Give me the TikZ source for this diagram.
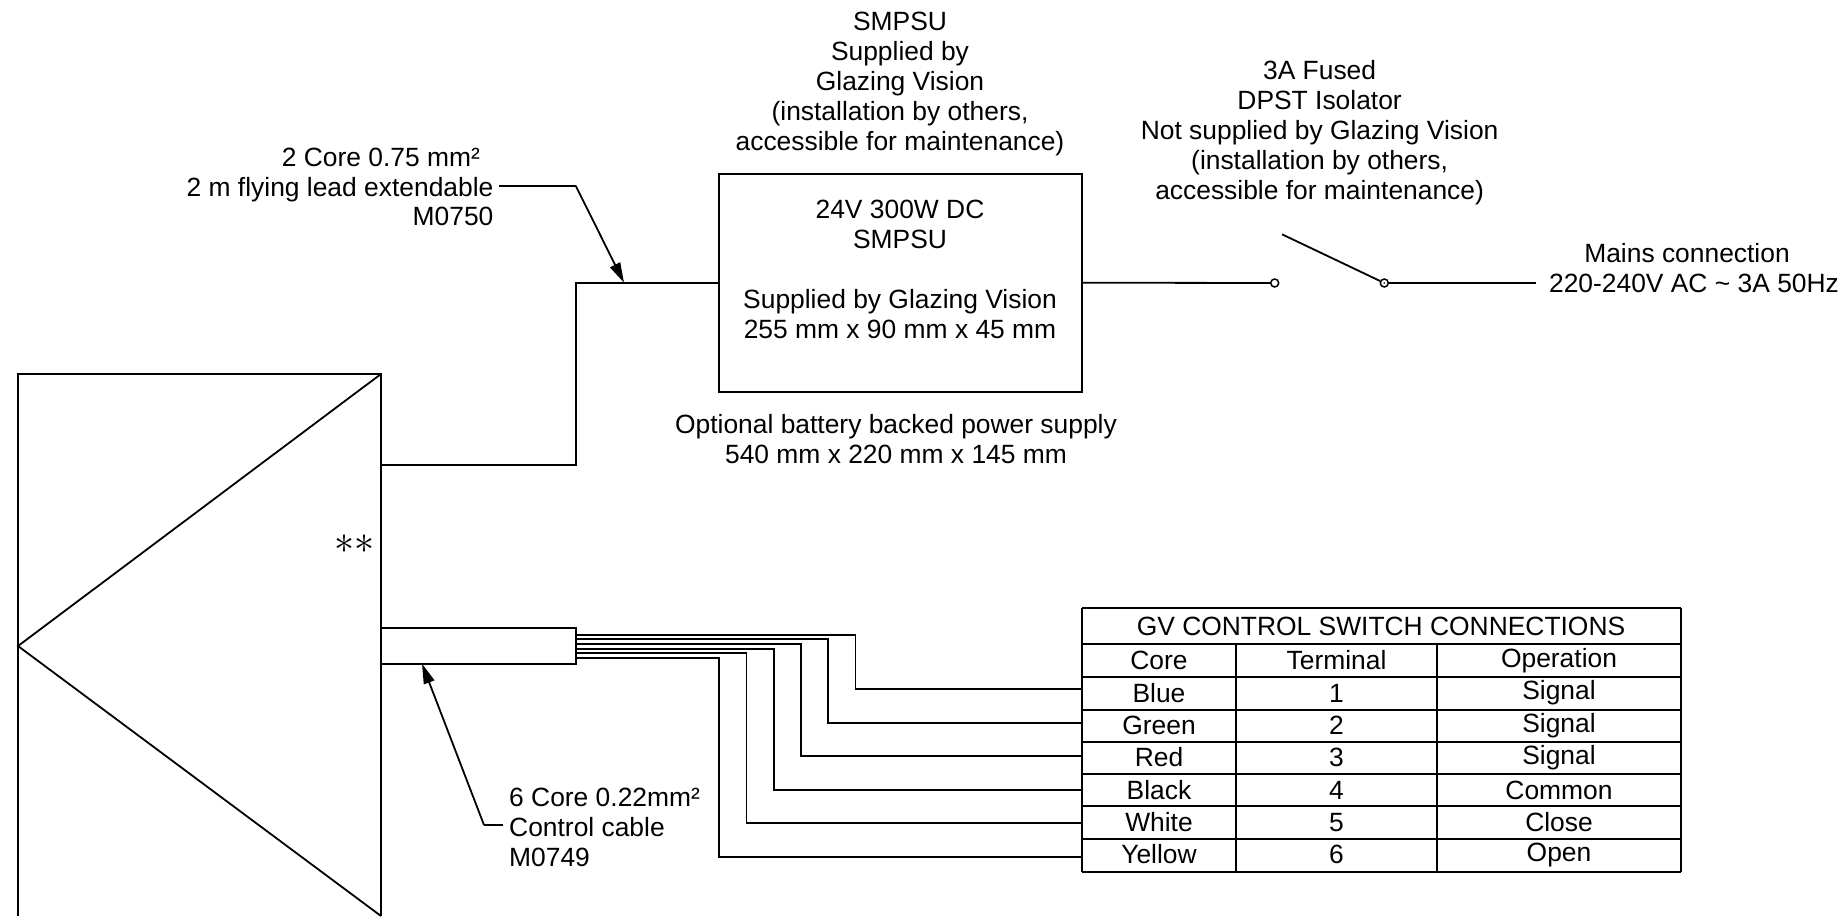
\documentclass[tikz,border=0pt]{standalone}
\usepackage{fontspec}
\setmainfont{Liberation Sans}
\usetikzlibrary{arrows.meta}
\tikzset{
  x=1pt,y=-1pt,
  ln/.style={line width=1.8pt,line join=miter},
  wire/.style={line width=1.8pt},
  lead/.style={line width=1.8pt,-{Triangle[length=20pt,width=11pt]}},
  lbl/.style={inner sep=0pt,align=center,font=\fontsize{26.4pt}{29.9pt}\selectfont},
  cell/.style={inner sep=0pt,anchor=base,font=\fontsize{26.4pt}{29.9pt}\selectfont},
  term/.style={circle,draw,fill=white,line width=1.5pt,inner sep=0pt,minimum size=8pt},
}
\begin{document}
\begin{tikzpicture}
\useasboundingbox (0,0) rectangle (1847,916);
% enclosure
\coordinate (tl) at (18,374);
\coordinate (tr) at (381,374);
\coordinate (bl) at (18,916);
\coordinate (br) at (381,916);
\coordinate (apex) at (18,646);
\draw[ln] (bl) -- (tl) -- (tr) -- (br);
\draw[ln] (tr) -- (apex) -- (br);
\node[inner sep=0pt,scale=4] (stars) at (354.7,544) {$\ast\ast$};
% power box
\node[draw,ln,minimum width=363pt,minimum height=218pt,inner sep=0pt] (psu) at (900.5,282.7) {};
\node[lbl] (psutxt) at (900,269.6) {24V 300W DC\\SMPSU\\[29.9pt]Supplied by Glazing Vision\\255 mm x 90 mm x 45 mm};
\node[lbl] (smpsu) at (900,84) {SMPSU\\Supplied by\\Glazing Vision\\(installation by others,\\accessible for maintenance)};
\node[lbl] (fused) at (1319.6,132.5) {3A Fused\\DPST Isolator\\Not supplied by Glazing Vision\\(installation by others,\\accessible for maintenance)};
\node[lbl] (mainsa) at (1687,253) {Mains connection};
\node[lbl] (mainsb) at (1694,283) {220-240V AC \textasciitilde{} 3A 50Hz};
\node[lbl] (batt) at (896,439) {Optional battery backed power supply\\540 mm x 220 mm x 145 mm};
\node[lbl,align=right,anchor=east] (lead2) at (493.6,187) {2 Core 0.75 mm²\hspace*{13.4pt}\\2 m flying lead extendable\\M0750};
\node[lbl,align=left,anchor=west] (lead6) at (509,827) {6 Core 0.22mm²\\Control cable\\M0749};
% power wiring
\coordinate (ps1) at (381,465);
\coordinate (ps2) at (575.7,465);
\coordinate (ps3) at (575.7,282.7);
\draw[ln] (ps1) -- (ps2) -- (ps3) -- (psu.west);
\coordinate (la) at (499,185.7);
\coordinate (lb) at (575.7,185.7);
\coordinate (lc) at (624,282.7);
\draw[ln] (la) -- (lb);
\draw[lead] (lb) -- (lc);
% switch
\node[term] (sw1) at (1274.7,283) {};
\node[term] (sw2) at (1384.3,283) {};
\coordinate (arm) at (1282,234.3);
\coordinate (mainsend) at (1536,283);
\draw[ln] (psu.east) -- (sw1);
\draw[ln] (sw2) -- (mainsend);
\draw[ln] (arm) -- (sw2);
\fill (sw2.center) circle (0.9pt);
% control cable
\node[draw,ln,minimum width=194.6pt,minimum height=36pt,inner sep=0pt] (cable) at (478.3,645.7) {};
\coordinate (l1) at (484,825);
\coordinate (l2) at (503,825);
\coordinate (l3) at (422,663.7);
\draw[ln] (l2) -- (l1);
\draw[lead] (l1) -- (l3);
% table
\foreach \n/\y in {a/608.3,b/644.3,c/677,d/709.7,e/742,f/774,g/806.3,h/839,i/871.7}{
  \coordinate (y\n) at (1082,\y);
  \coordinate (z\n) at (1681,\y);
  \draw[ln] (y\n) -- (z\n);
}
\draw[ln] (ya) -- (yi);
\draw[ln] (za) -- (zi);
\coordinate (v1t) at (1236.3,644.3);
\coordinate (v1b) at (1236.3,871.7);
\coordinate (v2t) at (1437,644.3);
\coordinate (v2b) at (1437,871.7);
\draw[ln] (v1t) -- (v1b);
\draw[ln] (v2t) -- (v2b);
\node[cell] (title) at (1381,635.3) {GV CONTROL SWITCH CONNECTIONS};
\node[cell] (hcore) at (1159,669.3) {Core};
\node[cell] (hterm) at (1336.5,669.3) {Terminal};
\node[cell] (hop) at (1559,667.7) {Operation};
\foreach \i/\c/\t/\o/\yc/\yo in {1/Blue/1/Signal/702/699.7,2/Green/2/Signal/734/732.3,3/Red/3/Signal/766/764.3,4/Black/4/Common/799.7/799.7,5/White/5/Close/831.7/831.7,6/Yellow/6/Open/863.7/861.7}{
  \node[cell] (c\i) at (1159,\yc) {\c};
  \node[cell] (t\i) at (1336.5,\yc) {\t};
  \node[cell] (o\i) at (1559,\yo) {\o};
}
% wires
\foreach \i/\ya/\xv/\yb in {1/634.7/855.5/689,2/639.3/828/723,3/644/800.8/756.3,4/648.7/773.6/790,5/653/746.4/823.3,6/657.7/718.8/857}{
  \coordinate (ws\i) at (575.6,\ya);
  \coordinate (wm\i) at (\xv,\ya);
  \coordinate (wn\i) at (\xv,\yb);
  \coordinate (we\i) at (1082,\yb);
  \draw[wire] (ws\i) -- (wm\i) -- (wn\i) -- (we\i);
}
\end{tikzpicture}
\end{document}
